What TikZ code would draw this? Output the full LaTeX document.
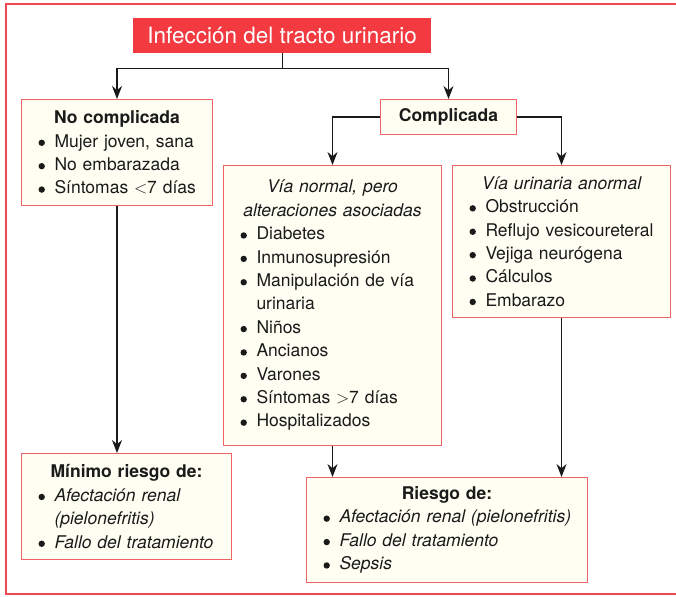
\documentclass[tikz,border=0pt]{standalone}
\usepackage{fontspec}
\setmainfont{TeX Gyre Heros}
\usetikzlibrary{arrows.meta,positioning}
\definecolor{utiRed}{HTML}{F23A40}
\definecolor{utiEdge}{HTML}{EE6366}
\definecolor{utiFrame}{HTML}{F04A50}
\definecolor{utiCream}{HTML}{FFFEF2}
\definecolor{utiInk}{HTML}{1A1A1A}
\newcommand{\dotmark}{\raisebox{1pt}{\tikz[baseline=-3.3pt]\fill[utiInk] (0,0) circle (3.2pt);}}
\newcommand{\itm}[1]{\par\noindent\hangindent=16pt\hangafter=1\makebox[16pt][l]{\dotmark}#1}
\newcommand{\hd}[1]{{\centering #1\par}}
\tikzset{
  panel/.style    ={draw=utiEdge,line width=1pt,fill=utiCream,text=utiInk,anchor=north west,
                    inner xsep=17pt,inner ysep=0pt,font=\fontsize{17.5}{23.4}\selectfont,
                    execute at begin node=\setlength{\parskip}{0pt}\raggedright},
  tag/.style      ={draw=utiEdge,line width=1pt,fill=utiCream,text=utiInk,anchor=north west,
                    inner sep=0pt,font=\fontsize{17.5}{23.4}\selectfont\bfseries},
  headbox/.style  ={fill=utiRed,text=white,anchor=north west,inner sep=0pt,
                    font=\fontsize{22.5}{26}\selectfont},
  flow/.style     ={-{Stealth[length=13pt,width=10pt]},utiInk,line width=1.1pt},
  frame/.style    ={utiFrame,line width=2pt},
}
\begin{document}
\begin{tikzpicture}[x=1pt,y=-1pt]
\useasboundingbox[fill=white] (0,0) rectangle (676,596);
\draw[frame] (676,4) -- (6,4) -- (6,594) -- (676,594);

\node[headbox,minimum width=298pt,minimum height=35pt] (itu) at (133,18) {Infección del tracto urinario};

\node[panel,text width=157pt,minimum height=106pt] (nocomp) at (21,99)
  {\hd{\textbf{No complicada}}
   \itm{Mujer joven, sana}
   \itm{No embarazada}
   \itm{\mbox{Síntomas $<$7 días}}};
\node[tag,minimum width=136pt,minimum height=35pt] (comp) at (380,99) {Complicada};

\node[panel,text width=184pt,minimum height=280pt] (normal) at (223,165)
  {\hd{\itshape Vía normal, pero\\ alteraciones asociadas}
   \itm{Diabetes}
   \itm{Inmunosupresión}
   \itm{Manipulación de vía\newline urinaria}
   \itm{Niños}
   \itm{Ancianos}
   \itm{Varones}
   \itm{\mbox{Síntomas $>$7 días}}
   \itm{Hospitalizados}};
\node[panel,text width=184pt,minimum height=152pt] (anormal) at (452,165)
  {\hd{\itshape Vía urinaria anormal}
   \itm{Obstrucción}
   \itm{Reflujo vesicoureteral}
   \itm{Vejiga neurógena}
   \itm{Cálculos}
   \itm{Embarazo}};

\node[panel,text width=176pt,minimum height=106pt] (minimo) at (21,453)
  {\hd{\textbf{Mínimo riesgo de:}}
   \itm{\itshape Afectación renal\newline (pielonefritis)}
   \itm{\itshape Fallo del tratamiento}};
\node[panel,text width=247pt,minimum height=105pt] (riesgo) at (306,477)
  {\hd{\textbf{Riesgo de:}}
   \itm{\itshape\mbox{Afectación renal (pielonefritis)}}
   \itm{\itshape Fallo del tratamiento}
   \itm{\itshape Sepsis}};

%% connectors
\draw[flow] (itu.south) -- ++(0,15) -| (nocomp.north);
\draw[flow] (itu.south) -- ++(0,15) -| (comp.north);
\draw[flow] (comp.west) -| (normal.north);
\draw[flow] (comp.east) -| (anormal.north);
\draw[flow] (nocomp.south) -- (nocomp.south |- minimo.north);
\draw[flow] (normal.south) -- (normal.south |- riesgo.north);
\draw[flow] (anormal.south) -- (anormal.south |- riesgo.north);
\end{tikzpicture}
\end{document}
